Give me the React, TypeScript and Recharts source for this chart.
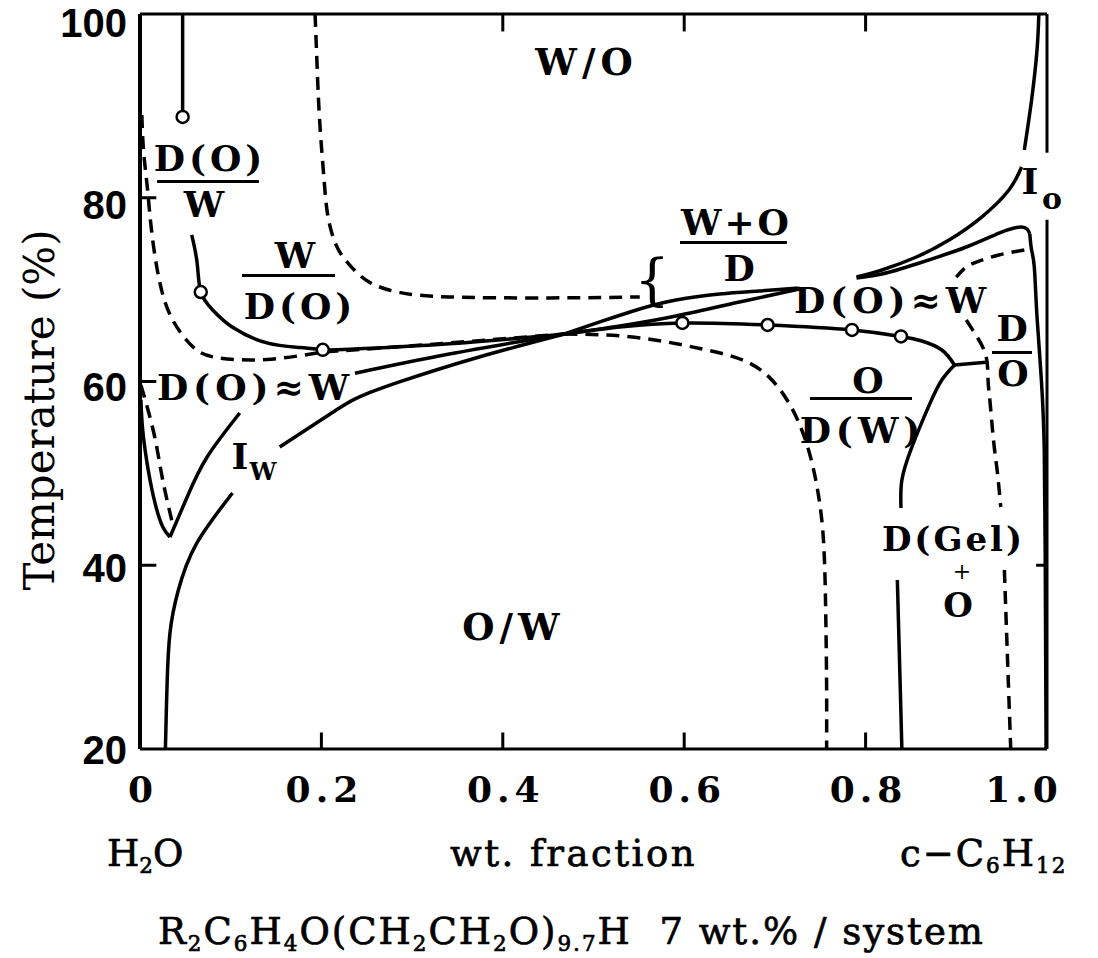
import React from 'react';
import { ComposedChart, Line, Scatter, XAxis, YAxis, ReferenceLine } from 'recharts';

type Pt = { x: number; y: number | null };
const gap = (x: number): Pt => ({ x, y: null });

// axis ticks
const xTicks = [0, 0.2, 0.4, 0.6, 0.8, 1.0];
const xTickLabels = ['0', '0.2', '0.4', '0.6', '0.8', '1.0'];
const yTicks = [20, 40, 60, 80, 100];
const bottomInnerTicks = [0.2, 0.4, 0.6, 0.8];
const topInnerTicks = [0.4, 0.6, 0.8];
const leftInnerTicks = [40, 60, 80];
const rightInnerTicks = [40];

// curves (x = wt. fraction of c-C6H12, y = temperature)
const dropLineDW: Pt[] = [{ x: 0.047, y: 100 }, { x: 0.047, y: 89.5 }];
const woBoundaryDashed: Pt[] = [
  { x: 0.193, y: 100 }, { x: 0.195, y: 95 }, { x: 0.198, y: 88.5 }, { x: 0.203, y: 81.9 },
  { x: 0.207, y: 78.1 }, { x: 0.216, y: 74.9 }, { x: 0.231, y: 72.7 }, { x: 0.253, y: 70.8 },
  { x: 0.286, y: 69.7 }, { x: 0.341, y: 69.2 }, { x: 0.452, y: 69.1 }, { x: 0.551, y: 69.2 },
];
const dowLowerDashed: Pt[] = [
  { x: 0.002, y: 89 }, { x: 0.004, y: 85 }, { x: 0.008, y: 81.2 }, { x: 0.013, y: 76.2 },
  { x: 0.022, y: 70.7 }, { x: 0.036, y: 66.7 }, { x: 0.058, y: 63.8 }, { x: 0.085, y: 62.6 },
  { x: 0.14, y: 62.4 }, { x: 0.195, y: 63.1 }, { x: 0.231, y: 63.4 }, { x: 0.341, y: 64.2 },
  { x: 0.468, y: 65.17 },
];
const owUpperDashed: Pt[] = [
  { x: 0.468, y: 65.17 }, { x: 0.543, y: 64.84 }, { x: 0.617, y: 63.6 }, { x: 0.672, y: 62.0 },
  { x: 0.705, y: 59.2 }, { x: 0.726, y: 55.6 }, { x: 0.74, y: 51.5 }, { x: 0.749, y: 47.0 },
  { x: 0.754, y: 42 }, { x: 0.756, y: 35 }, { x: 0.757, y: 27 }, { x: 0.757, y: 20 },
];
const wdoSolid: Pt[] = [
  { x: 0.057, y: 75.95 }, { x: 0.063, y: 72.9 }, { x: 0.067, y: 69.74 }, { x: 0.08, y: 67.8 },
  { x: 0.102, y: 65.9 }, { x: 0.14, y: 64.2 }, { x: 0.176, y: 63.7 }, { x: 0.2015, y: 63.45 },
  { x: 0.231, y: 63.5 }, { x: 0.341, y: 64.1 }, { x: 0.468, y: 65.17 },
];
const vLeftArm: Pt[] = [
  { x: 0.001, y: 58 }, { x: 0.003, y: 54.7 }, { x: 0.009, y: 50.4 }, { x: 0.017, y: 46.6 },
  { x: 0.025, y: 44.2 }, { x: 0.033, y: 43.07 },
];
const vRightArm: Pt[] = [
  { x: 0.033, y: 43.07 }, { x: 0.052, y: 47.43 }, { x: 0.074, y: 51.78 }, { x: 0.11, y: 56.57 },
  gap(0.17), { x: 0.237, y: 60.9 }, { x: 0.341, y: 62.99 }, { x: 0.468, y: 65.17 },
];
const vInnerDashed: Pt[] = [
  { x: 0.001, y: 59.6 }, { x: 0.008, y: 57.2 }, { x: 0.017, y: 53.6 }, { x: 0.025, y: 49.3 },
  { x: 0.035, y: 44.9 },
];
const iwCurve: Pt[] = [
  { x: 0.028, y: 20 }, { x: 0.029, y: 24 }, { x: 0.03, y: 27.5 }, { x: 0.033, y: 32.6 },
  { x: 0.042, y: 37.2 }, { x: 0.062, y: 42.3 }, { x: 0.102, y: 47.86 }, gap(0.13),
  { x: 0.154, y: 52.87 }, { x: 0.213, y: 56.68 }, { x: 0.239, y: 58.2 }, { x: 0.286, y: 59.95 },
  { x: 0.374, y: 62.67 }, { x: 0.468, y: 65.17 },
];
const wedgeUpper: Pt[] = [
  { x: 0.468, y: 65.17 }, { x: 0.507, y: 66.48 }, { x: 0.551, y: 67.89 }, { x: 0.591, y: 68.87 },
  { x: 0.639, y: 69.52 }, { x: 0.683, y: 69.85 }, { x: 0.727, y: 70.18 },
];
const wedgeLower: Pt[] = [
  { x: 0.468, y: 65.17 }, { x: 0.529, y: 66.04 }, { x: 0.591, y: 67.13 }, { x: 0.661, y: 68.65 },
  { x: 0.727, y: 70.07 },
];
const owBoundary: Pt[] = [
  { x: 0.468, y: 65.17 }, { x: 0.529, y: 65.93 }, { x: 0.598, y: 66.37 }, { x: 0.692, y: 66.15 },
  { x: 0.785, y: 65.61 }, { x: 0.839, y: 64.9 }, { x: 0.862, y: 64.41 }, { x: 0.884, y: 63.43 },
  { x: 0.898, y: 61.8 },
];
const gelBoundary: Pt[] = [
  { x: 0.898, y: 61.8 }, { x: 0.884, y: 60.16 }, { x: 0.87, y: 57.4 }, { x: 0.851, y: 52.87 },
  { x: 0.84, y: 49.28 }, { x: 0.839, y: 46.23 }, gap(0.837),
  { x: 0.835, y: 38.39 }, { x: 0.837, y: 31.1 }, { x: 0.84, y: 20 },
];
const junctionTie: Pt[] = [{ x: 0.898, y: 61.8 }, { x: 0.933, y: 62.1 }];
const rightDashed: Pt[] = [
  { x: 0.975, y: 74.31 }, { x: 0.947, y: 73.77 }, { x: 0.925, y: 73.1 }, { x: 0.911, y: 72.46 },
  { x: 0.9, y: 71.37 }, gap(0.905),
  { x: 0.911, y: 66.69 }, { x: 0.923, y: 64.84 }, { x: 0.933, y: 62.67 }, { x: 0.935, y: 60.16 },
  { x: 0.937, y: 57.99 }, { x: 0.941, y: 53.63 }, { x: 0.945, y: 50.37 }, { x: 0.949, y: 46.34 },
  gap(0.951),
  { x: 0.953, y: 39.48 }, { x: 0.956, y: 31.1 }, { x: 0.96, y: 20 },
];
const ioCurve: Pt[] = [
  { x: 0.79, y: 71.37 }, { x: 0.818, y: 72.14 }, { x: 0.856, y: 73.55 }, { x: 0.892, y: 75.4 },
  { x: 0.928, y: 77.9 }, { x: 0.958, y: 80.84 }, { x: 0.972, y: 83.35 }, gap(0.973),
  { x: 0.975, y: 85.2 }, { x: 0.983, y: 90.64 }, { x: 0.989, y: 96.08 }, { x: 0.991, y: 100 },
];
const doBoundaryTop: Pt[] = [
  { x: 0.79, y: 71.27 }, { x: 0.818, y: 71.7 }, { x: 0.856, y: 72.79 }, { x: 0.911, y: 74.64 },
  { x: 0.947, y: 76.16 }, { x: 0.964, y: 76.71 }, { x: 0.972, y: 76.82 }, { x: 0.978, y: 76.6 },
  { x: 0.981, y: 76.06 },
];
const doBoundarySide: Pt[] = [
  { x: 0.981, y: 76.06 }, { x: 0.983, y: 74.31 }, { x: 0.986, y: 72.46 }, { x: 0.989, y: 67.02 },
  { x: 0.994, y: 59.84 }, { x: 0.997, y: 52.54 }, { x: 0.998, y: 41.66 }, { x: 0.999, y: 20 },
];
const openCircles: Pt[] = [
  { x: 0.047, y: 88.8 }, { x: 0.067, y: 69.74 }, { x: 0.2015, y: 63.45 }, { x: 0.598, y: 66.37 },
  { x: 0.692, y: 66.15 }, { x: 0.785, y: 65.61 }, { x: 0.839, y: 64.9 },
];

const solidCurves = [dropLineDW, wdoSolid, vLeftArm, vRightArm, iwCurve, wedgeUpper, wedgeLower,
  owBoundary, gelBoundary, ioCurve, doBoundaryTop, doBoundarySide];
const dashedCurves = [woBoundaryDashed, dowLowerDashed, owUpperDashed, vInnerDashed, rightDashed];

const SERIF = '"DejaVu Serif", "Liberation Serif", serif';

const YTick = (props: any) => {
  const { x, y, payload } = props;
  const off = 15 + ((payload.value - 20) / 80) * 8;
  return (
    <text x={x} y={y + off} textAnchor="end" fontFamily='"Liberation Sans", Arial, sans-serif'
      fontWeight="bold" fontSize={40} fill="#000">{payload.value}</text>
  );
};

const XTick = (props: any) => {
  const { x, y, payload } = props;
  const i = xTicks.indexOf(payload.value);
  const dx = payload.value === 1 ? -26 : 0;
  return (
    <text x={x + dx + 3} y={y} textAnchor="middle" fontFamily={SERIF} fontWeight="bold"
      fontSize={36} letterSpacing={5} fill="#000">{xTickLabels[i]}</text>
  );
};

const Circle = (props: any) => (
  <circle cx={props.cx} cy={props.cy} r={6} fill="#fff" stroke="#000" strokeWidth={2.5} />
);

const Sub = ({ children }: { children: React.ReactNode }) => (
  <span style={{ fontSize: '0.58em', position: 'relative', top: '0.32em' }}>{children}</span>
);

const Txt = ({ x, y, size = 36, weight = 'bold', ls = 4, anchor = 'middle', thick = 0, children }: any) => (
  <div style={{
    position: 'absolute', left: x, top: y,
    transform: `translate(${anchor === 'middle' ? '-50%' : '0'}, -50%)`,
    fontFamily: SERIF, fontSize: size, fontWeight: weight, letterSpacing: ls,
    paddingLeft: anchor === 'middle' ? ls : 0, lineHeight: 1, whiteSpace: 'nowrap', color: '#000',
    WebkitTextStroke: thick ? `${thick}px #000` : undefined,
  }}>{children}</div>
);

const Bar = ({ x1, x2, y }: any) => (
  <div style={{ position: 'absolute', left: x1, top: y - 1.5, width: x2 - x1, height: 3, background: '#000' }} />
);

export default function App() {
  return (
    <div style={{ position: 'relative', width: 1098, height: 958, margin: '-8px 0 0 -8px', background: '#fff' }}>
      <ComposedChart width={1098} height={830} margin={{ top: 14, right: 51, bottom: 21, left: 0 }}>
        <XAxis type="number" dataKey="x" domain={[0, 1]} ticks={xTicks} interval={0} allowDataOverflow
          height={60} axisLine={{ stroke: '#000', strokeWidth: 3 }} tickLine={false} tickSize={0}
          tickMargin={53} tick={XTick} />
        <YAxis type="number" dataKey="y" domain={[20, 100]} ticks={yTicks} interval={0} allowDataOverflow
          width={140} axisLine={{ stroke: '#000', strokeWidth: 4 }} tickLine={false} tickSize={0}
          tickMargin={13} tick={YTick} />
        <ReferenceLine segment={[{ x: 0, y: 100 }, { x: 1, y: 100 }]} stroke="#000" strokeWidth={3} ifOverflow="visible" />
        <ReferenceLine segment={[{ x: 1, y: 20 }, { x: 1, y: 77.6 }]} stroke="#000" strokeWidth={3} ifOverflow="visible" />
        <ReferenceLine segment={[{ x: 1, y: 84.9 }, { x: 1, y: 100 }]} stroke="#000" strokeWidth={3} ifOverflow="visible" />
        {bottomInnerTicks.map((v) => (
          <ReferenceLine key={'b' + v} segment={[{ x: v, y: 20 }, { x: v, y: 21.8 }]} stroke="#000" strokeWidth={3} ifOverflow="visible" />
        ))}
        {topInnerTicks.map((v) => (
          <ReferenceLine key={'t' + v} segment={[{ x: v, y: 100 }, { x: v, y: 98.1 }]} stroke="#000" strokeWidth={3} ifOverflow="visible" />
        ))}
        {leftInnerTicks.map((v) => (
          <ReferenceLine key={'l' + v} segment={[{ x: 0, y: v }, { x: 0.018, y: v }]} stroke="#000" strokeWidth={3} ifOverflow="visible" />
        ))}
        {rightInnerTicks.map((v) => (
          <ReferenceLine key={'r' + v} segment={[{ x: 1, y: v }, { x: 0.988, y: v }]} stroke="#000" strokeWidth={3} ifOverflow="visible" />
        ))}
        {solidCurves.map((d, i) => (
          <Line key={'s' + i} data={d} dataKey="y" type="natural" stroke="#000" strokeWidth={3.5}
            dot={false} activeDot={false} isAnimationActive={false} connectNulls={false} legendType="none" />
        ))}
        <Line data={junctionTie} dataKey="y" type="linear" stroke="#000" strokeWidth={3.5}
          dot={false} activeDot={false} isAnimationActive={false} legendType="none" />
        {dashedCurves.map((d, i) => (
          <Line key={'d' + i} data={d} dataKey="y" type="natural" stroke="#000" strokeWidth={3.5}
            strokeDasharray="13 8" dot={false} activeDot={false} isAnimationActive={false}
            connectNulls={false} legendType="none" />
        ))}
        <Scatter data={openCircles} dataKey="y" shape={Circle} isAnimationActive={false} legendType="none" />
      </ComposedChart>

      <div style={{
        position: 'absolute', left: 40, top: 410, transform: 'translate(-50%, -50%) rotate(-90deg)',
        fontFamily: SERIF, fontSize: 42, lineHeight: 1, whiteSpace: 'nowrap', color: '#000',
      }}>Temperature (%)</div>

      <Txt x={584} y={62} size={37} ls={5}>W/O</Txt>
      <Txt x={511} y={627} size={37} ls={5}>O/W</Txt>

      <Txt x={208} y={158}>D(O)</Txt>
      <Bar x1={157} x2={259} y={181} />
      <Txt x={204} y={204}>W</Txt>

      <Txt x={295} y={255}>W</Txt>
      <Bar x1={242} x2={335} y={275} />
      <Txt x={298} y={306}>D(O)</Txt>

      <Txt x={253} y={387} ls={5}>D(O)≈W</Txt>
      <Txt x={240} y={456}>I</Txt>
      <Txt x={263} y={472} size={24} ls={0}>W</Txt>

      <Txt x={735} y={222} ls={3}>W+O</Txt>
      <Bar x1={680} x2={787} y={242} />
      <Txt x={739} y={268}>D</Txt>
      <Txt x={652} y={280} size={56} weight="normal" ls={0}>{'{'}</Txt>

      <Txt x={890} y={300} ls={5}>D(O)≈W</Txt>

      <Txt x={868} y={380}>O</Txt>
      <Bar x1={810} x2={912} y={398} />
      <Txt x={860} y={430} ls={5}>D(W)</Txt>

      <Txt x={1012} y={328}>D</Txt>
      <Bar x1={992} x2={1032} y={352} />
      <Txt x={1013} y={373}>O</Txt>

      <Txt x={1030} y={181} ls={0}>I</Txt>
      <Txt x={1052} y={199} size={30} ls={0}>o</Txt>

      <div style={{
        position: 'absolute', left: 952, top: 572, transform: 'translate(-50%, -50%)',
        fontFamily: SERIF, fontWeight: 'bold', color: '#000', textAlign: 'center', whiteSpace: 'nowrap',
      }}>
        <div style={{ fontSize: 34, lineHeight: '40px', letterSpacing: 3, paddingLeft: 3 }}>D(Gel)</div>
        <div style={{ fontSize: 22, lineHeight: '26px', fontWeight: 'normal', position: 'relative', left: 10 }}>+</div>
        <div style={{ fontSize: 34, lineHeight: '40px', position: 'relative', left: 6 }}>O</div>
      </div>

      <Txt x={107} y={853} size={37} weight="normal" ls={0} anchor="start" thick={0.7}>H<Sub>2</Sub>O</Txt>
      <Txt x={450} y={853} size={37} weight="normal" ls={2.5} anchor="start" thick={0.7}>wt. fraction</Txt>
      <Txt x={900} y={853} size={37} weight="normal" ls={2} anchor="start" thick={0.7}>c−C<Sub>6</Sub>H<Sub>12</Sub></Txt>
      <Txt x={158} y={931} size={37} weight="normal" ls={2} anchor="start" thick={0.7}>
        R<Sub>2</Sub>C<Sub>6</Sub>H<Sub>4</Sub>O(CH<Sub>2</Sub>CH<Sub>2</Sub>O)<Sub>9.7</Sub>H{'\u00a0\u00a0'}7 wt.% / system
      </Txt>
    </div>
  );
}
